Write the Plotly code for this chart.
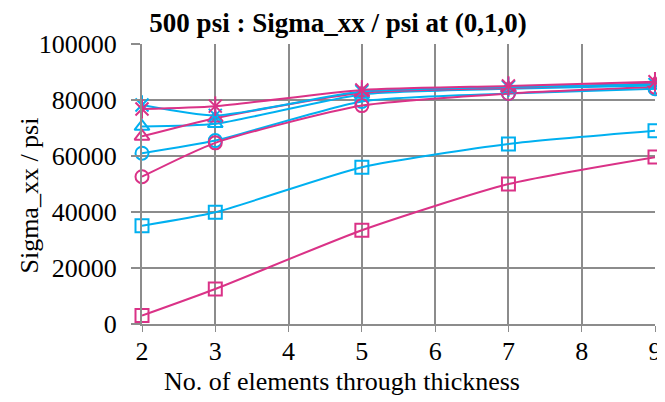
import plotly.graph_objects as go

elements = [2, 3, 5, 7, 9]

cyan_square = [35100, 39900, 56000, 64300, 69000]
magenta_square = [3000, 12500, 33500, 50000, 59600]
cyan_circle = [61000, 65500, 79500, 82300, 84000]
magenta_circle = [52600, 64700, 78000, 82300, 84600]
cyan_triangle = [70500, 71500, 82000, 84000, 85200]
magenta_triangle = [67000, 73500, 82600, 84300, 86000]
cyan_star = [78200, 74500, 83000, 84600, 85500]
magenta_star = [76800, 77800, 83600, 85000, 86500]

CYAN = "#00B0F0"
MAG = "#DA3287"

series = [
    ("cyan square", cyan_square, CYAN, "square-open"),
    ("magenta square", magenta_square, MAG, "square-open"),
    ("cyan circle", cyan_circle, CYAN, "circle-open"),
    ("magenta circle", magenta_circle, MAG, "circle-open"),
    ("cyan triangle", cyan_triangle, CYAN, "triangle-up-open"),
    ("magenta triangle", magenta_triangle, MAG, "triangle-up-open"),
    ("cyan star", cyan_star, CYAN, "x-thin-open"),
    ("magenta star", magenta_star, MAG, "x-thin-open"),
]

fig = go.Figure()
for name, vals, col, sym in series:
    fig.add_trace(go.Scatter(
        x=elements, y=vals, name=name, mode="lines+markers",
        line=dict(color=col, width=2, shape="spline", smoothing=0.6),
        marker=dict(symbol=sym, size=13, color=col, line=dict(color=col, width=2)),
        cliponaxis=False, showlegend=False,
    ))
    if sym == "x-thin-open":
        fig.add_trace(go.Scatter(
            x=elements, y=vals, mode="markers", showlegend=False, hoverinfo="skip",
            marker=dict(symbol="line-ns-open", size=14, color=col, line=dict(color=col, width=2)),
            cliponaxis=False,
        ))

font_family = "Liberation Serif"
grid = "#8C8C8C"

# page body has an 8px margin, so the figure is sized/positioned to compensate
W, H = 657, 394
fig.update_layout(
    width=W, height=H,
    margin=dict(l=134, r=3, t=36, b=78),
    paper_bgcolor="white", plot_bgcolor="white",
    font=dict(family=font_family, size=26, color="black"),
    title=dict(text="<b>500 psi : Sigma_xx / psi at (0,1,0)</b>",
               x=330 / W, xanchor="center", xref="container",
               y=1 - 15 / H, yanchor="middle", yref="container",
               font=dict(family=font_family, size=27, color="black")),
    annotations=[
        dict(text="No. of elements through thickness", xref="paper", yref="paper",
             x=(337 - 134) / 520, y=-(373 - 316) / 280, xanchor="center", yanchor="middle",
             showarrow=False, font=dict(family=font_family, size=26)),
        dict(text="Sigma_xx / psi", xref="paper", yref="paper", textangle=-90,
             x=-(134 - 19) / 520, y=(316 - 188) / 280, xanchor="center", yanchor="middle",
             showarrow=False, font=dict(family=font_family, size=26)),
    ],
)
fig.update_xaxes(
    range=[2, 9], tickmode="linear", tick0=2, dtick=1,
    showgrid=True, gridcolor=grid, gridwidth=2,
    showline=True, linecolor=grid, linewidth=2,
    ticks="outside", ticklen=6, tickcolor=grid, tickwidth=1,
    zeroline=False, ticklabelstandoff=-3, ticklabeloverflow="allow",
    tickfont=dict(family=font_family, size=26),
)
fig.update_yaxes(
    range=[0, 100000], tickmode="linear", tick0=0, dtick=20000,
    showgrid=True, gridcolor=grid, gridwidth=2,
    showline=True, linecolor=grid, linewidth=2,
    ticks="outside", ticklen=9, tickcolor=grid, tickwidth=2,
    zeroline=False, tickformat="d", ticklabelstandoff=9,
    tickfont=dict(family=font_family, size=26),
)

fig.write_html("out.html")
